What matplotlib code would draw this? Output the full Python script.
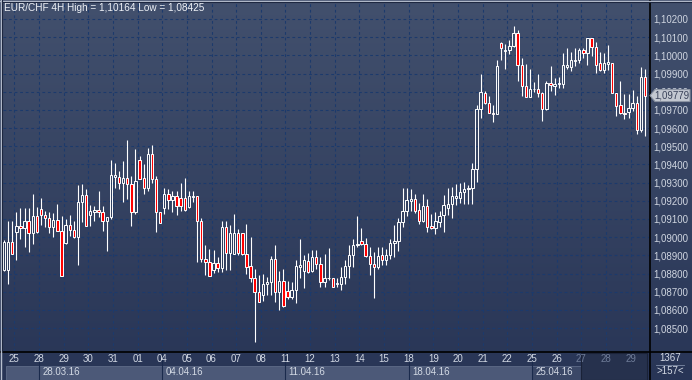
import numpy as np
import matplotlib
matplotlib.use("Agg")
import matplotlib.pyplot as plt
from matplotlib.patches import Rectangle, Polygon
from matplotlib.collections import LineCollection
from matplotlib.transforms import IdentityTransform

# EUR/CHF 4H candles
opens = [1.08818, 1.08818, 1.08973, 1.09027, 1.09060, 1.09049, 1.09087, 1.09022, 1.09115, 1.09155,
         1.09122, 1.09105, 1.09055, 1.09095, 1.09033, 1.08969, 1.09067, 1.09042, 1.09000, 1.09191,
         1.09231, 1.09124, 1.09140, 1.09149, 1.09136, 1.09087, 1.09109, 1.09331, 1.09333, 1.09296,
         1.09324, 1.09291, 1.09136, 1.09422, 1.09324, 1.09269, 1.09460, 1.09318, 1.09136, 1.09160,
         1.09236, 1.09204, 1.09224, 1.09218, 1.09218, 1.09164, 1.09220, 1.09224, 1.09087, 1.08878,
         1.08864, 1.08818, 1.08858, 1.08833, 1.09054, 1.08912, 1.08905, 1.09021, 1.09021, 1.08905,
         1.08842, 1.08776, 1.08700, 1.08682, 1.08745, 1.08755, 1.08882, 1.08700, 1.08758, 1.08703,
         1.08673, 1.08709, 1.08836, 1.08814, 1.08869, 1.08814, 1.08891, 1.08854, 1.08755, 1.08773,
         1.08776, 1.08745, 1.08742, 1.08782, 1.08842, 1.08900, 1.08955, 1.08981, 1.08965, 1.08896,
         1.08854, 1.08836, 1.08903, 1.08876, 1.08903, 1.08969, 1.08981, 1.09085, 1.09145, 1.09199,
         1.09209, 1.09149, 1.09091, 1.09173, 1.09060, 1.09049, 1.09085, 1.09122, 1.09162, 1.09185,
         1.09218, 1.09218, 1.09249, 1.09264, 1.09271, 1.09376, 1.09704, 1.09795, 1.09740, 1.09685,
         1.09676, 1.10067, 1.10022, 1.10031, 1.10053, 1.10125, 1.09949, 1.09831, 1.09773, 1.09813,
         1.09816, 1.09791, 1.09704, 1.09849, 1.09831, 1.09844, 1.09844, 1.09936, 1.09936, 1.09967,
         1.09976, 1.10027, 1.10013, 1.10095, 1.10045, 1.09958, 1.09918, 1.09955, 1.09958, 1.09795,
         1.09725, 1.09685, 1.09689, 1.09713, 1.09740, 1.09591, 1.09882]
highs = [1.08982, 1.09091, 1.09091, 1.09136, 1.09158, 1.09158, 1.09158, 1.09236, 1.09167, 1.09213,
         1.09145, 1.09136, 1.09133, 1.09182, 1.09118, 1.09100, 1.09122, 1.09091, 1.09287, 1.09291,
         1.09267, 1.09176, 1.09173, 1.09255, 1.09173, 1.09109, 1.09427, 1.09409, 1.09364, 1.09418,
         1.09536, 1.09336, 1.09485, 1.09445, 1.09400, 1.09491, 1.09509, 1.09336, 1.09136, 1.09273,
         1.09264, 1.09255, 1.09255, 1.09296, 1.09327, 1.09255, 1.09255, 1.09224, 1.09104, 1.08958,
         1.08936, 1.08927, 1.08891, 1.09091, 1.09091, 1.09067, 1.09127, 1.09045, 1.09021, 1.09073,
         1.09000, 1.08827, 1.08791, 1.08800, 1.08782, 1.08894, 1.08958, 1.08812, 1.08823, 1.08760,
         1.08755, 1.08873, 1.08991, 1.08900, 1.08912, 1.08927, 1.08927, 1.08891, 1.08909, 1.08940,
         1.08776, 1.08773, 1.08836, 1.08873, 1.08955, 1.08991, 1.09114, 1.09049, 1.08996, 1.08945,
         1.08918, 1.08945, 1.08945, 1.08936, 1.08991, 1.09067, 1.09103, 1.09273, 1.09273, 1.09263,
         1.09240, 1.09190, 1.09236, 1.09209, 1.09127, 1.09136, 1.09145, 1.09231, 1.09271, 1.09276,
         1.09295, 1.09300, 1.09304, 1.09285, 1.09409, 1.09725, 1.09900, 1.09804, 1.09776, 1.09725,
         1.09976, 1.10076, 1.10064, 1.10082, 1.10164, 1.10140, 1.09985, 1.09955, 1.09926, 1.09853,
         1.09895, 1.09798, 1.09858, 1.09944, 1.09876, 1.09882, 1.10013, 1.10040, 1.10016, 1.10040,
         1.10040, 1.10040, 1.10095, 1.10095, 1.10071, 1.10016, 1.10013, 1.10058, 1.09958, 1.09795,
         1.09858, 1.09785, 1.09785, 1.09809, 1.09776, 1.09936, 1.09925]
lows = [1.08815, 1.08742, 1.08905, 1.08873, 1.08991, 1.08945, 1.08918, 1.08960, 1.09024, 1.09069,
        1.09055, 1.09022, 1.09000, 1.09033, 1.08787, 1.08964, 1.09009, 1.08996, 1.08845, 1.09082,
        1.09060, 1.09064, 1.09091, 1.09109, 1.09036, 1.08922, 1.09100, 1.09273, 1.09267, 1.09191,
        1.09209, 1.09060, 1.09127, 1.09318, 1.09236, 1.09255, 1.09296, 1.09027, 1.09078, 1.09127,
        1.09155, 1.09136, 1.09122, 1.09145, 1.09145, 1.09160, 1.09195, 1.08864, 1.08864, 1.08791,
        1.08787, 1.08805, 1.08809, 1.08809, 1.08818, 1.08818, 1.08905, 1.08900, 1.08900, 1.08800,
        1.08755, 1.08425, 1.08645, 1.08649, 1.08682, 1.08682, 1.08645, 1.08600, 1.08618, 1.08660,
        1.08660, 1.08636, 1.08773, 1.08718, 1.08805, 1.08809, 1.08827, 1.08727, 1.08727, 1.08763,
        1.08724, 1.08727, 1.08709, 1.08745, 1.08773, 1.08836, 1.08945, 1.08955, 1.08891, 1.08794,
        1.08663, 1.08827, 1.08845, 1.08845, 1.08882, 1.08891, 1.08922, 1.09054, 1.09114, 1.09145,
        1.09132, 1.09073, 1.09081, 1.09031, 1.09045, 1.09018, 1.09054, 1.09031, 1.09122, 1.09104,
        1.09176, 1.09189, 1.09185, 1.09185, 1.09185, 1.09304, 1.09653, 1.09731, 1.09682, 1.09635,
        1.09676, 1.09976, 1.09926, 1.10009, 1.10045, 1.09858, 1.09776, 1.09773, 1.09773, 1.09798,
        1.09773, 1.09640, 1.09700, 1.09804, 1.09780, 1.09822, 1.09818, 1.09925, 1.09913, 1.09940,
        1.09958, 1.09985, 1.09949, 1.09998, 1.09904, 1.09913, 1.09904, 1.09922, 1.09791, 1.09667,
        1.09676, 1.09649, 1.09653, 1.09695, 1.09567, 1.09580, 1.09555]
closes = [1.08973, 1.08973, 1.08905, 1.09060, 1.09049, 1.09087, 1.09022, 1.09115, 1.09027, 1.09122,
          1.09105, 1.09055, 1.09096, 1.09033, 1.08787, 1.09069, 1.09042, 1.09000, 1.09191, 1.09231,
          1.09060, 1.09142, 1.09149, 1.09136, 1.09087, 1.09109, 1.09340, 1.09340, 1.09296, 1.09324,
          1.09291, 1.09136, 1.09309, 1.09318, 1.09269, 1.09455, 1.09318, 1.09136, 1.09078, 1.09236,
          1.09204, 1.09224, 1.09173, 1.09169, 1.09149, 1.09224, 1.09224, 1.09087, 1.08878, 1.08864,
          1.08787, 1.08860, 1.08833, 1.09055, 1.08912, 1.09021, 1.09021, 1.08912, 1.08905, 1.08836,
          1.08776, 1.08700, 1.08645, 1.08745, 1.08755, 1.08882, 1.08700, 1.08758, 1.08621, 1.08673,
          1.08709, 1.08842, 1.08845, 1.08873, 1.08809, 1.08891, 1.08854, 1.08755, 1.08776, 1.08776,
          1.08727, 1.08749, 1.08782, 1.08842, 1.08900, 1.08958, 1.08961, 1.08965, 1.08896, 1.08851,
          1.08836, 1.08896, 1.08876, 1.08903, 1.08969, 1.08981, 1.09085, 1.09145, 1.09203, 1.09209,
          1.09145, 1.09091, 1.09173, 1.09054, 1.09049, 1.09091, 1.09118, 1.09176, 1.09185, 1.09225,
          1.09225, 1.09249, 1.09264, 1.09271, 1.09376, 1.09704, 1.09800, 1.09740, 1.09685, 1.09676,
          1.09944, 1.10040, 1.10031, 1.10053, 1.10125, 1.09949, 1.09831, 1.09773, 1.09816, 1.09816,
          1.09791, 1.09707, 1.09849, 1.09835, 1.09845, 1.09849, 1.09949, 1.09949, 1.09973, 1.09976,
          1.10027, 1.10013, 1.10095, 1.10045, 1.09949, 1.09922, 1.09958, 1.09962, 1.09795, 1.09722,
          1.09685, 1.09676, 1.09713, 1.09740, 1.09591, 1.09882, 1.09779]

day_labels = ["25", "28", "29", "30", "31", "01", "04", "05", "06", "07", "08", "11", "12",
              "13", "14", "15", "18", "19", "20", "21", "22", "25", "26", "27", "28", "29"]
week_labels = ["28.03.16", "04.04.16", "11.04.16", "18.04.16", "25.04.16"]
price_ticks = [1.085, 1.086, 1.087, 1.088, 1.089, 1.090, 1.091, 1.092, 1.093,
               1.094, 1.095, 1.096, 1.097, 1.098, 1.099, 1.100, 1.101, 1.102]
last_price = 1.09779
title = "EUR/CHF 4H High = 1,10164 Low = 1,08425"
bars_total = "1367"
bars_shown = ">157<"

plt.rcParams["font.family"] = ["Liberation Sans", "DejaVu Sans"]
W, H = 692, 380
fig = plt.figure(figsize=(W / 100, H / 100), dpi=100)

# vertical gradient background
bg = fig.add_axes([0, 0, 1, 1], zorder=-5)
top = np.array([0x42, 0x50, 0x6d]) / 255
bot = np.array([0x28, 0x35, 0x56]) / 255
t = np.linspace(0, 1, 256)[:, None, None]
bg.imshow(top * (1 - t) + bot * t, aspect="auto", extent=[0, 1, 0, 1])
bg.set_axis_off()


def fx(px):
    return px / W


def fy(py):
    return 1 - py / H


n = len(opens)
x = np.arange(n)
ax = fig.add_axes([fx(3), fy(351), fx(646), (351 - 2) / H])
ax.patch.set_alpha(0)
ax.set_xlim(-0.243, 156.97)
ax.set_ylim(1.08374, 1.102935)
day_pos = 2.5 + 6 * np.arange(len(day_labels))
ax.set_xticks(day_pos)
ax.set_yticks(price_ticks)
ax.grid(True, color="#1c3a6c", lw=0.8, ls=(0, (2.5, 2.5)))
ax.tick_params(length=0, labelbottom=False, labelleft=False, labelright=True,
               labelsize=7, labelcolor="#cfd5e0", pad=3)
ax.set_yticklabels([f"{p:.5f}".replace(".", ",") for p in price_ticks])
for s in ax.spines.values():
    s.set_visible(False)

# candles: hollow white for up bars, red filled for down bars
up = np.array(closes) >= np.array(opens)
segs = []
for i in range(n):
    lo, hi = min(opens[i], closes[i]), max(opens[i], closes[i])
    if up[i]:
        segs.append([(x[i], lows[i]), (x[i], lo)])
        segs.append([(x[i], hi), (x[i], highs[i])])
    else:
        segs.append([(x[i], lows[i]), (x[i], highs[i])])
ax.add_collection(LineCollection(segs, colors="white", linewidths=0.8, zorder=3))
bw = 0.58
for i in range(n):
    lo, hi = min(opens[i], closes[i]), max(opens[i], closes[i])
    ax.add_patch(Rectangle((x[i] - bw / 2, lo), bw, hi - lo,
                           facecolor="none" if up[i] else "#ff0000",
                           edgecolor="white", lw=0.7, zorder=4))

# title
fig.text(fx(4), fy(8), title, color="#eef1f6", fontsize=7.2, va="center", ha="left")

# frame lines
fig.add_artist(plt.Line2D([fx(649.5)] * 2, [0, 1], color="black", lw=1.2))
fig.add_artist(plt.Line2D([0, 1], [fy(351.5)] * 2, color="black", lw=1.2))
fig.add_artist(plt.Line2D([fx(0.5)] * 2, [0, 1], color="#b8c0cf", lw=1.0))
fig.add_artist(plt.Line2D([0, 1], [fy(0.5)] * 2, color="#b8c0cf", lw=1.0))
fig.add_artist(plt.Line2D([fx(2)] * 2, [fy(351), 1], color="#1d2740", lw=0.8))
fig.add_artist(plt.Line2D([fx(2), 1], [fy(1.8)] * 2, color="#1d2740", lw=0.8))

# bottom axis panel
bx = fig.add_axes([fx(3), 0, fx(646), 28 / H])
bx.set_xlim(ax.get_xlim())
bx.set_ylim(0, 28)
bx.set_axis_off()
week_idx = [1, 6, 11, 16, 21]
week_pos = [day_pos[k] for k in week_idx]
edges = [0.5] + week_pos + [day_pos[23]]
for k in range(len(edges) - 1):
    fc = "#3b4867" if k == len(edges) - 2 else "#4c5978"
    bx.add_patch(Rectangle((edges[k], 0.5), edges[k + 1] - edges[k], 14,
                           facecolor=fc, edgecolor="#5e6b88", lw=0.6))
bx.add_patch(Rectangle((day_pos[23], 0.5), 156.6 - day_pos[23], 27,
                       facecolor="#26314d", edgecolor="#1a2238", lw=0.8))
for p in week_pos:
    bx.plot([p, p], [0, 28], color="#1a2a4c", lw=0.8)
for k, (p, lab) in enumerate(zip(day_pos, day_labels)):
    bx.text(p, 21, lab, color="#6f7c98" if k >= 23 else "#d3d9e4",
            fontsize=7, ha="center", va="center")
for p, lab in zip(week_pos, week_labels):
    bx.text(p + 0.8, 8, lab, color="#d3d9e4", fontsize=7, ha="left", va="center")

# bottom-right counters
fig.text(fx(670), fy(358), bars_total, color="#d3d9e4", fontsize=7, ha="center", va="center")
fig.text(fx(670), fy(371), bars_shown, color="#d3d9e4", fontsize=7, ha="center", va="center")
fig.add_artist(plt.Line2D([fx(656), fx(684)], [fy(365)] * 2, color="#7d8aa5", lw=0.6))

# current price tag (covers the 1,09800 label as in the original)
fig.canvas.draw()
ty = ax.transData.transform((0, last_price))[1]
tag = Polygon([(650, ty), (655, ty + 6), (690, ty + 6), (690, ty - 6), (655, ty - 6)],
              closed=True, facecolor="#c3c8d1", edgecolor="#8c94a3", lw=0.8,
              transform=IdentityTransform(), zorder=10)
fig.add_artist(tag)
fig.text(672 / W, ty / H, f"{last_price:.5f}".replace(".", ","), color="#39425a",
         fontsize=7, ha="center", va="center", zorder=11)

fig.savefig("out.png", dpi=100)
